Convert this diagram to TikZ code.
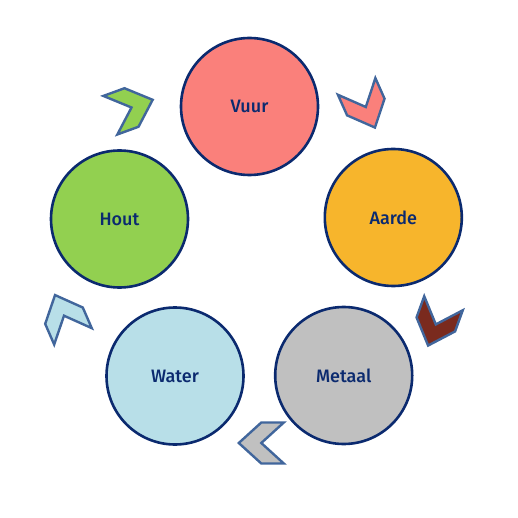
\documentclass[tikz,border=0pt]{standalone}
\usepackage{fontspec}
\setmainfont{Fira Sans}
\newfontfamily\lblfont{Fira Sans Medium}
\definecolor{navy}{HTML}{0B2A6F}
\definecolor{edgeblue}{HTML}{41669C}
\definecolor{cvuur}{HTML}{FA807B}
\definecolor{caarde}{HTML}{F7B52C}
\definecolor{cmetaal}{HTML}{C0C0C0}
\definecolor{cwater}{HTML}{B8DFE8}
\definecolor{chout}{HTML}{92D050}
\definecolor{cbrown}{HTML}{7A2A1E}
\tikzset{
  elem/.style={circle, draw=navy, line width=2.6pt, minimum size=137pt, inner sep=0pt,
    font=\lblfont\fontsize{18}{21}\selectfont, text=navy},
  pics/chev/.style={code={
    \draw[draw=edgeblue, line width=2.4pt, line join=miter, fill=#1]
      (22.5,0) -- (0,20.5) -- (-22.5,20.5) -- (0,0) -- (-22.5,-20.5) -- (0,-20.5) -- cycle;}}
}
\begin{document}
\begin{tikzpicture}[x=1pt,y=-1pt]
\useasboundingbox (0,0) rectangle (518,518);
\node[elem, fill=cvuur] (vuur) at (249.5,106.5) {Vuur};
\node[elem, fill=caarde] (aarde) at (393.3,217.5) {Aarde};
\node[elem, fill=cmetaal] (metaal) at (343.7,375.5) {Metaal};
\node[elem, fill=cwater] (water) at (175,376) {Water};
\node[elem, fill=chout] (hout) at (119.5,219) {Hout};
\pic[rotate=20] at (131.5,107.5) {chev=chout};
\pic[rotate=-66] at (365.8,107) {chev=cvuur};
\pic[rotate=-110] at (435.8,324.4) {chev=cbrown};
\pic[rotate=180] at (261.3,443) {chev=cmetaal};
\pic[rotate=113.5] at (64,315.7) {chev=cwater};
\end{tikzpicture}
\end{document}
